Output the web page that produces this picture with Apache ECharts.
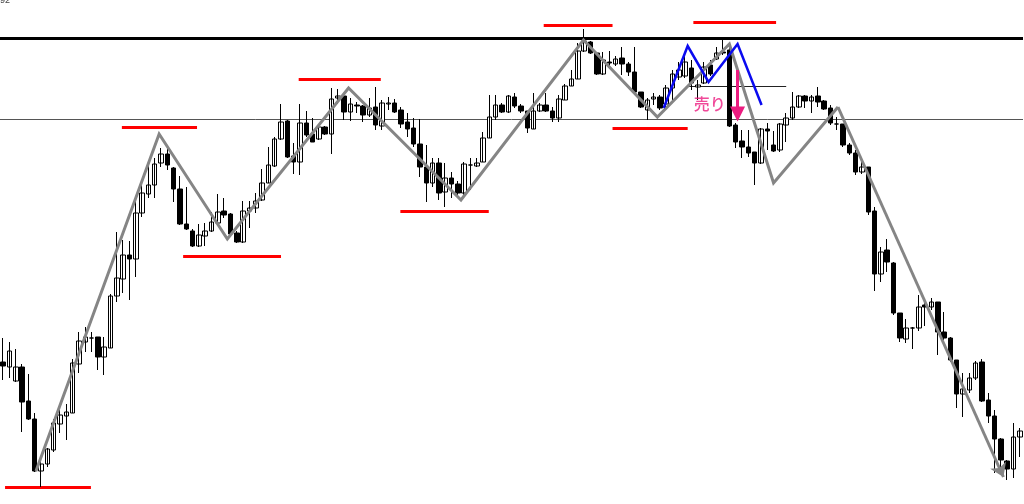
<!DOCTYPE html>
<html>
<head>
<meta charset="utf-8">
<script src="https://cdn.jsdelivr.net/npm/echarts@6/dist/echarts.min.js"></script>
<style>
html,body{margin:0;padding:0;background:#fff;}
#main{width:1024px;height:504px;}
</style>
</head>
<body>
<div id="main"></div>
<script>
// price levels (y axis is inverted, so smaller = higher price)
const opens = [362,367,381,367,401,419,471,464,450,424,416,413,364,342,338,337,357,348,296,279,
  255,259,213,194,185,163,154,168,189,224,231,246,236,231,223,211,214,233,242,211,
  208,200,183,166,139,121,156,162,123,134,139,127,134,98,96,112,105,106,115,107,
  126,104,103,110,122,128,144,167,183,163,192,178,184,193,165,166,162,138,117,105,
  112,97,106,111,129,111,105,111,118,100,86,79,51,42,53,74,62,64,58,64,
  72,92,110,99,97,104,88,77,76,68,87,83,65,59,52,50,125,141,147,152,
  163,129,145,150,125,118,107,96,101,96,101,108,124,124,145,153,172,167,211,274,
  250,263,313,339,328,328,305,307,302,332,338,360,394,390,378,362,400,416,439,461,
  469,437];
const closes = [366,351,367,402,419,471,464,449,423,415,412,363,341,337,338,357,347,296,278,255,
  259,213,193,185,164,154,165,189,224,229,246,235,231,222,212,215,234,242,211,208,
  201,183,165,139,122,157,162,123,135,142,127,134,99,96,112,104,106,115,108,125,
  103,103,112,124,129,144,167,183,163,193,178,184,193,164,165,163,138,117,105,112,
  96,106,111,128,111,105,111,118,99,86,79,51,41,53,74,60,63,59,64,72,
  92,107,100,97,108,88,74,70,62,83,85,67,74,53,53,126,142,147,153,163,
  129,131,151,124,118,107,96,101,97,102,109,123,124,145,153,172,167,212,274,252,
  262,313,338,328,328,307,307,302,332,338,360,394,389,378,363,401,416,439,460,469,
  437,431];
const highs = [338,342,349,364,374,413,460,448,419,410,404,359,332,327,332,337,337,294,232,240,
  241,200,182,163,158,148,148,167,176,187,229,224,223,212,194,198,213,231,201,201,
  193,169,147,137,104,120,143,104,111,118,125,126,88,89,95,98,102,105,98,87,
  100,97,99,107,113,118,119,145,158,158,163,172,181,162,158,158,132,95,95,103,
  95,93,104,111,93,103,93,107,95,84,70,43,29,41,53,52,51,56,47,62,
  47,92,98,93,95,85,70,62,55,60,80,62,60,47,38,43,123,130,130,152,
  128,123,131,123,113,92,95,95,95,87,100,105,117,124,143,150,160,167,207,247,
  239,262,313,319,327,295,298,298,302,312,337,360,373,373,361,359,393,410,438,460,
  423,428];
const lows = [380,378,382,432,420,472,487,467,452,433,440,413,373,352,352,370,375,348,302,293,
  300,277,217,198,198,167,170,202,225,230,247,247,246,232,223,218,235,243,243,228,
  213,201,183,167,140,158,174,175,137,142,140,135,154,104,120,121,113,122,117,130,
  130,110,113,128,137,147,177,202,187,200,207,198,197,197,190,167,162,138,120,113,
  113,108,113,133,129,112,112,122,122,100,86,79,52,54,75,75,69,66,75,76,
  94,108,120,105,110,107,100,80,78,90,100,84,76,60,55,127,148,158,157,185,
  164,150,152,152,142,120,108,108,113,107,110,125,130,147,155,175,174,215,291,282,
  272,315,342,343,349,331,326,310,355,340,362,408,417,393,380,402,423,473,470,480,
  478,457];
const bars = opens.map((_, i) => String(i + 1));

// grey zigzag (bar index, level)
const zigIdx = [5.2, 24.7, 35.5, 54.7, 72.5, 91.9, 103.6, 115.0, 122.0, 132.2, 158.4];
const zigLvl = [471, 134, 239, 88, 200, 40, 117, 44, 183, 107, 477];
// blue double top
const mIdx = [104.6, 108.4, 111.7, 116.3, 120.1];
const mLvl = [108, 46, 82, 44, 105];
// red support / resistance strokes
const redFrom = [0.3, 18.8, 28.5, 46.8, 62.9, 85.6, 96.5, 109.3];
const redTo = [13.9, 30.7, 44.0, 59.8, 76.9, 96.5, 108.4, 122.4];
const redLvl = [487, 127, 256, 79, 211, 25, 128, 22];
// horizontal levels
const topLevel = 38.5;
const midLevel = 119;
const neckFrom = 108.5, neckTo = 124.0, neckLvl = 86;
// sell arrow
const sellIdx = 116.3, sellFrom = 70, sellTo = 121;
const sellText = '売り', sellTextIdx = 111.9, sellTextLvl = 104;

var candleData = [];
for (let i = 0; i < opens.length; i++) {
  candleData.push([opens[i], closes[i], lows[i], highs[i]]);
}
var zigCoords = zigIdx.map((x, i) => [x, zigLvl[i]]);
var zigLast = zigCoords.slice(-2);   // last leg carries the arrow head
var mCoords = mIdx.map((x, i) => [x, mLvl[i]]);
var redData = redLvl.map((y, i) => ({coords: [[redFrom[i], y], [redTo[i], y]]}));

var myChart = echarts.init(document.getElementById('main'));
var option = {
  animation: false,
  backgroundColor: '#fff',
  grid: {left: 0, right: 1, top: 0, bottom: 0},
  xAxis: [
    {type: 'category', data: bars, boundaryGap: true, show: false},
    {type: 'value', min: -0.5, max: bars.length - 0.5, show: false}
  ],
  yAxis: {type: 'value', inverse: true, min: 0, max: 504, show: false},
  graphic: [{
    type: 'text', left: 0, top: -4,
    style: {text: '92', fontSize: 9, fill: '#444', fontFamily: 'Arial'}
  }],
  series: [
    {
      type: 'lines', coordinateSystem: 'cartesian2d', xAxisIndex: 1, z: 1,
      lineStyle: {color: '#000', width: 3, opacity: 1},
      data: [{coords: [[-0.5, topLevel], [bars.length - 0.5, topLevel]]}]
    },
    {
      type: 'lines', coordinateSystem: 'cartesian2d', xAxisIndex: 1, z: 1,
      lineStyle: {color: '#555', width: 1, opacity: 1},
      data: [
        {coords: [[-0.5, midLevel], [bars.length - 0.5, midLevel]]},
        {coords: [[neckFrom, neckLvl], [neckTo, neckLvl]], lineStyle: {color: '#222'}}
      ]
    },
    {
      type: 'lines', coordinateSystem: 'cartesian2d', xAxisIndex: 1, z: 2,
      lineStyle: {color: '#ff0000', width: 3, opacity: 1},
      data: redData
    },
    {
      type: 'candlestick', xAxisIndex: 0, z: 3,
      barWidth: 5,
      data: candleData,
      itemStyle: {
        color: '#000', color0: '#fff',
        borderColor: '#000', borderColor0: '#000',
        borderWidth: 1
      }
    },
    {
      type: 'lines', coordinateSystem: 'cartesian2d', xAxisIndex: 1, z: 4, polyline: true,
      lineStyle: {color: '#858585', width: 3, opacity: 1, join: 'miter'},
      data: [{coords: zigCoords.slice(0, -1)}]
    },
    {
      type: 'lines', coordinateSystem: 'cartesian2d', xAxisIndex: 1, z: 4,
      symbol: ['none', 'arrow'], symbolSize: 13,
      lineStyle: {color: '#858585', width: 3, opacity: 1},
      itemStyle: {color: '#858585'},
      data: [{coords: zigLast}]
    },
    {
      type: 'lines', coordinateSystem: 'cartesian2d', xAxisIndex: 1, z: 5, polyline: true,
      lineStyle: {color: '#0a0af0', width: 2.5, opacity: 1},
      data: [{coords: mCoords}]
    },
    {
      type: 'lines', coordinateSystem: 'cartesian2d', xAxisIndex: 1, z: 6,
      symbol: ['none', 'triangle'], symbolSize: [13, 15], symbolRotate: 180,
      lineStyle: {color: '#ec1c80', width: 3, opacity: 1},
      itemStyle: {color: '#ec1c80'},
      data: [{coords: [[sellIdx, sellFrom], [sellIdx, sellTo - 7]]}]
    },
    {
      type: 'scatter', xAxisIndex: 1, z: 7, symbolSize: 1,
      itemStyle: {color: 'rgba(0,0,0,0)'},
      label: {
        show: true, position: 'inside', formatter: sellText,
        color: '#ec1c80', fontSize: 16, fontWeight: 500,
        fontFamily: 'Noto Sans CJK JP'
      },
      data: [[sellTextIdx, sellTextLvl]]
    }
  ]
};
myChart.setOption(option);
</script>
</body>
</html>
